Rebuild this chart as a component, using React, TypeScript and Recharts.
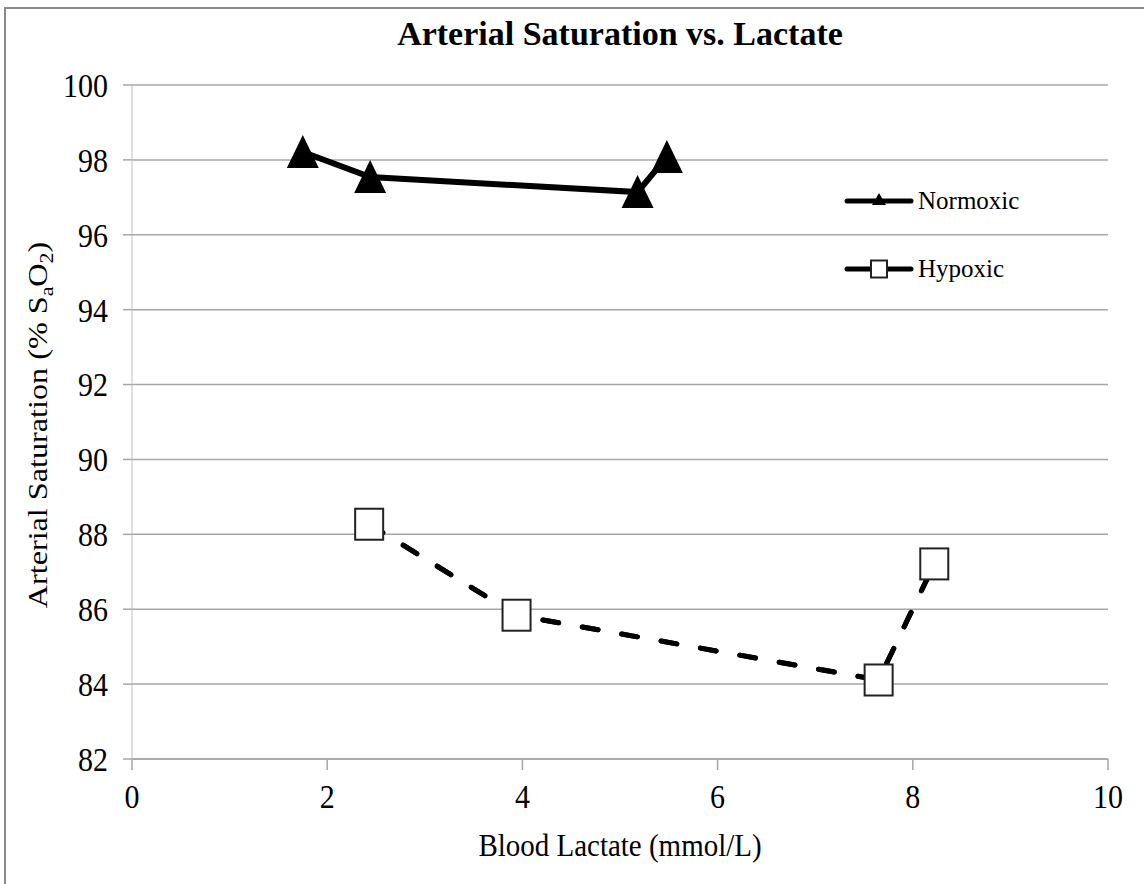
import React from 'react';
import { LineChart, Line, XAxis, YAxis, CartesianGrid, Legend } from 'recharts';

const normoxicLactate = [1.75, 2.44, 5.18, 5.48];
const normoxicSaturation = [98.21, 97.54, 97.14, 98.08];
const hypoxicLactate = [2.43, 3.94, 7.65, 8.22];
const hypoxicSaturation = [88.27, 85.84, 84.11, 87.21];
const xTicks = [0, 2, 4, 6, 8, 10];
const yTicks = [82, 84, 86, 88, 90, 92, 94, 96, 98, 100];

const normoxicData = normoxicLactate.map((x, i) => ({ x, y: normoxicSaturation[i] }));
const hypoxicData = hypoxicLactate.map((x, i) => ({ x, y: hypoxicSaturation[i] }));

const FONT = "'Liberation Serif', 'Times New Roman', serif";
const GRID = '#a6a6a6';

const Triangle = (props: any) => {
  const { cx, cy } = props;
  if (cx == null || cy == null) return null;
  return <polygon points={`${cx},${cy - 17} ${cx - 16},${cy + 16} ${cx + 16},${cy + 16}`} fill="#000" />;
};

const Square = (props: any) => {
  const { cx, cy } = props;
  if (cx == null || cy == null) return null;
  return <rect x={cx - 14} y={cy - 15.5} width={28} height={31} fill="#fff" stroke="#222" strokeWidth={2} />;
};

// tick text is a little taller than wide in the source image
const XTick = (props: any) => {
  const { x, y, payload } = props;
  return (
    <text transform={`translate(${x},${y}) scale(1,1.12)`} textAnchor="middle" dy="0.71em" style={{ fontFamily: FONT, fontSize: 30 }} fill="#000">
      {payload.value}
    </text>
  );
};

const YTick = (props: any) => {
  const { x, y, payload } = props;
  return (
    <text transform={`translate(${x},${y}) scale(1,1.12)`} textAnchor="end" dy="0.355em" style={{ fontFamily: FONT, fontSize: 30 }} fill="#000">
      {payload.value}
    </text>
  );
};

const renderLegend = () => (
  <div style={{ fontFamily: FONT, fontSize: 25, color: '#000' }}>
    <div style={{ display: 'flex', alignItems: 'center', height: 40 }}>
      <svg width={70} height={24}>
        <line x1={3} y1={12} x2={67} y2={12} stroke="#000" strokeWidth={5} strokeLinecap="round" />
        <polygon points="35,4 28,16 42,16" fill="#000" />
      </svg>
      <span style={{ marginLeft: 4 }}>Normoxic</span>
    </div>
    <div style={{ height: 28 }} />
    <div style={{ display: 'flex', alignItems: 'center', height: 40 }}>
      <svg width={70} height={24}>
        <line x1={3} y1={12} x2={67} y2={12} stroke="#000" strokeWidth={5} strokeLinecap="round" />
        <rect x={27} y={3.5} width={16} height={17} fill="#fff" stroke="#222" strokeWidth={2} />
      </svg>
      <span style={{ marginLeft: 4 }}>Hypoxic</span>
    </div>
  </div>
);

const YLabel = () => (
  <text transform="translate(47,425) rotate(-90) scale(1.15,1)" textAnchor="middle" style={{ fontFamily: FONT, fontSize: 28 }} fill="#000">
    Arterial Saturation (% S
    <tspan dy={6} style={{ fontSize: 19 }}>a</tspan>
    <tspan dy={-6}>O</tspan>
    <tspan dy={6} style={{ fontSize: 19 }}>2</tspan>
    <tspan dy={-6}>)</tspan>
  </text>
);

const XLabel = () => (
  <text transform="translate(620,856) scale(1,1.12)" textAnchor="middle" style={{ fontFamily: FONT, fontSize: 29 }} fill="#000">
    Blood Lactate (mmol/L)
  </text>
);

const App: React.FC = () => {
  return (
    <div style={{ position: 'absolute', left: 0, top: 0, width: 1144, height: 884, background: '#fff', fontFamily: FONT }}>
      <div style={{ position: 'absolute', left: 4, top: 7, width: 1140, height: 877, borderLeft: '2px solid #8a8a8a', borderTop: '2px solid #8a8a8a' }} />
      <div
        style={{
          position: 'absolute', left: 0, top: 14, width: 1240, textAlign: 'center',
          fontFamily: FONT, fontSize: 34, fontWeight: 'bold', lineHeight: '40px', color: '#000',
        }}
      >
        Arterial Saturation vs. Lactate
      </div>
      <LineChart width={1144} height={884} margin={{ top: 85, right: 36, bottom: 0, left: 0 }} style={{ position: 'absolute', left: 0, top: 0, fontFamily: FONT }}>
        <CartesianGrid horizontal vertical={false} stroke={GRID} strokeWidth={1.5} />
        <XAxis
          type="number"
          dataKey="x"
          domain={[0, 10]}
          ticks={xTicks}
          height={125}
          axisLine={{ stroke: GRID, strokeWidth: 1.5 }}
          tickLine={{ stroke: GRID, strokeWidth: 1.5 }}
          tickSize={11}
          tickMargin={14}
          tick={<XTick />}
          label={<XLabel />}
        />
        <YAxis
          type="number"
          domain={[82, 100]}
          ticks={yTicks}
          width={132}
          axisLine={{ stroke: '#c0c0c0', strokeWidth: 1 }}
          tickLine={{ stroke: GRID, strokeWidth: 1.5 }}
          tickSize={9}
          tickMargin={15}
          tick={<YTick />}
          label={<YLabel />}
        />
        <Legend
          layout="vertical"
          verticalAlign="middle"
          align="center"
          content={renderLegend}
          wrapperStyle={{ position: 'absolute', left: 844, top: 181, width: 220 }}
        />
        <Line
          name="Normoxic"
          data={normoxicData}
          dataKey="y"
          stroke="#000"
          strokeWidth={6}
          dot={<Triangle />}
          activeDot={false}
          isAnimationActive={false}
        />
        <Line
          name="Hypoxic"
          data={hypoxicData}
          dataKey="y"
          stroke="#000"
          strokeWidth={5}
          strokeDasharray="16 24"
          strokeLinecap="round"
          dot={<Square />}
          activeDot={false}
          isAnimationActive={false}
        />
        <Line
          name="HypoxicOverlay"
          data={hypoxicData}
          dataKey="y"
          stroke="#000"
          strokeWidth={5}
          strokeDasharray="16 24"
          strokeLinecap="round"
          dot={false}
          activeDot={false}
          legendType="none"
          isAnimationActive={false}
        />
      </LineChart>
    </div>
  );
};

export default App;
